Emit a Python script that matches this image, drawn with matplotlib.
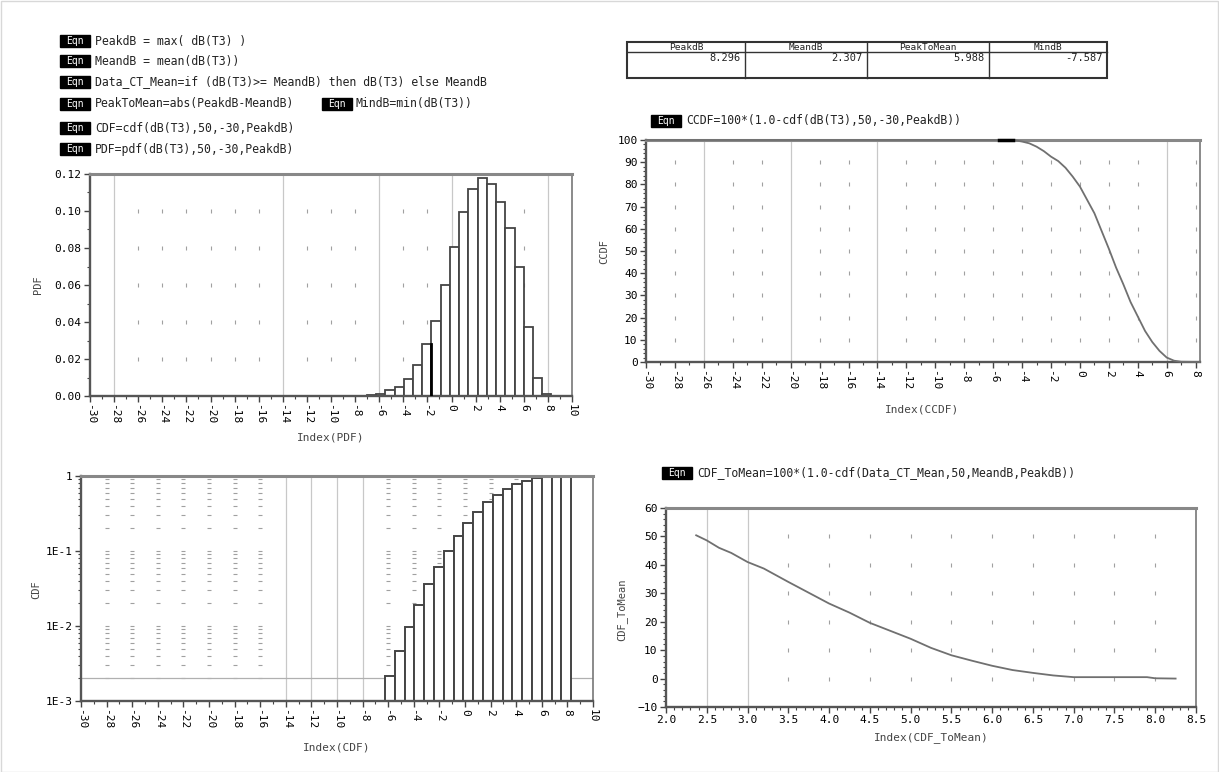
import numpy as np
import matplotlib
matplotlib.use("Agg")
import matplotlib.pyplot as plt
from matplotlib.patches import Rectangle
from matplotlib.lines import Line2D
from matplotlib.ticker import MultipleLocator, LogLocator, NullFormatter

# ---------------- data ----------------
peak_db = 8.296
x_start = -30.0
n_bins = 50

table_headers = ["PeakdB", "MeandB", "PeakToMean", "MindB"]
table_values = ["8.296", "2.307", "5.988", "-7.587"]

equations = [
    "PeakdB = max( dB(T3) )",
    "MeandB = mean(dB(T3))",
    "Data_CT_Mean=if (dB(T3)>= MeandB) then dB(T3) else MeandB",
    "PeakToMean=abs(PeakdB-MeandB)",
    "CDF=cdf(dB(T3),50,-30,PeakdB)",
    "PDF=pdf(dB(T3),50,-30,PeakdB)",
]
equation_side = "MindB=min(dB(T3))"
ccdf_equation = "CCDF=100*(1.0-cdf(dB(T3),50,-30,PeakdB))"
tomean_equation = "CDF_ToMean=100*(1.0-cdf(Data_CT_Mean,50,MeandB,PeakdB))"

# PDF: probability per bin, bins 30..49 of 50 bins from -30 to PeakdB
pdf_first_bin = 30
pdf_values = [0.0008, 0.0012, 0.003, 0.005, 0.0094, 0.017, 0.028, 0.0407,
              0.060, 0.0804, 0.0992, 0.112, 0.118, 0.1146, 0.105, 0.091,
              0.0696, 0.0374, 0.0099, 0.001]
pdf_marked_bin = 36

# CDF: bins 31..49
cdf_first_bin = 31
cdf_values = [0.00215, 0.0047, 0.0096, 0.019, 0.036, 0.0617, 0.101, 0.158,
              0.238, 0.328, 0.454, 0.558, 0.671, 0.782, 0.857, 0.933, 0.99,
              1.0, 1.0]
cdf_ref_level = 0.002

# CCDF curve
ccdf_x = [-30, -5.6, -4.6, -4, -3.5, -3, -2.5, -2, -1.5, -1, -0.5, 0, 0.5, 1,
          1.5, 2, 2.5, 3, 3.5, 4, 4.5, 5, 5.5, 6, 6.5, 7, 8.296]
ccdf_y = [100, 100, 100, 99.3, 98.5, 97, 95, 92.5, 90.5, 87.5, 83.5, 79, 73,
          67, 59, 51, 42.5, 35, 27, 20.5, 14, 9, 5, 2, 0.6, 0.1, 0]

# CDF_ToMean curve
tomean_x = [2.37, 2.5, 2.65, 2.8, 3.0, 3.2, 3.5, 3.75, 4.0, 4.25, 4.5, 4.75,
            5.0, 5.25, 5.5, 5.75, 6.0, 6.25, 6.5, 6.75, 7.0, 7.5, 7.9, 8.0, 8.25]
tomean_y = [50.4, 48.6, 46, 44.2, 41, 38.7, 34, 30.2, 26.4, 23.2, 19.6, 16.8,
            14, 10.8, 8.2, 6.3, 4.5, 3.0, 2.0, 1.1, 0.5, 0.5, 0.5, 0.1, 0.0]

# ---------------- figure ----------------
plt.rcParams["font.family"] = ["DejaVu Sans Mono"]
W, H = 1219, 772
fig = plt.figure(figsize=(W / 100, H / 100), dpi=100)
fig.patch.set_facecolor("white")
EQ_FS = 8.3


def add_ax(l, t, r, b):
    return fig.add_axes([l / W, 1 - b / H, (r - l) / W, (b - t) / H])


def ftext(x, y, s, **kw):
    return fig.text(x / W, 1 - y / H, s, **kw)


def eqn_box(x, y, w=30, h=12):
    fig.patches.append(Rectangle((x / W, 1 - (y + h / 2) / H), w / W, h / H,
                                 transform=fig.transFigure, facecolor="black",
                                 edgecolor="black"))
    ftext(x + w / 2, y, "Eqn", color="white", fontsize=7, ha="center", va="center")


def style(ax):
    for side, sp in ax.spines.items():
        sp.set_color("#555555")
        sp.set_linewidth(1.7)
    ax.spines["top"].set_color("#888888")
    ax.spines["top"].set_linewidth(2.2)
    ax.spines["right"].set_color("#777777")
    ax.spines["right"].set_linewidth(1.2)
    ax.tick_params(which="major", direction="out", length=4, width=1,
                   color="#444444", labelsize=8, pad=2)
    ax.tick_params(which="minor", direction="out", length=2.5, width=0.8,
                   color="#444444")
    ax.set_facecolor("white")


def marks(ax, xs, ys, marker="|", size=3):
    gx, gy = np.meshgrid(xs, ys)
    ax.plot(gx.ravel(), gy.ravel(), linestyle="none", marker=marker,
            markersize=size, color="#a0a0a0", mew=0.8, zorder=0.5)


edges = np.linspace(x_start, peak_db, n_bins + 1)
xticks = np.arange(-30, 11, 2)

# ---------------- equations ----------------
eq_y = [41, 61, 82, 104, 128, 149]
for s, y in zip(equations, eq_y):
    eqn_box(60, y)
    ftext(95, y, s, fontsize=EQ_FS, va="center", color="#222222")
eqn_box(322, eq_y[3])
ftext(356, eq_y[3], equation_side, fontsize=EQ_FS, va="center", color="#222222")

# ---------------- table ----------------
t_left, t_right, t_top, t_mid, t_bot = 627, 1107, 42, 52, 78
cols = [627, 745, 867, 989, 1107]
fig.patches.append(Rectangle((t_left / W, 1 - t_bot / H), (t_right - t_left) / W,
                             (t_bot - t_top) / H, transform=fig.transFigure,
                             fill=False, edgecolor="#333333", linewidth=1.5))
fig.add_artist(Line2D([t_left / W, t_right / W], [1 - t_mid / H, 1 - t_mid / H],
                      color="#333333", linewidth=1.0))
for c in cols[1:-1]:
    fig.add_artist(Line2D([c / W, c / W], [1 - t_top / H, 1 - t_bot / H],
                          color="#333333", linewidth=1.0))
for i, (hd, val) in enumerate(zip(table_headers, table_values)):
    ftext((cols[i] + cols[i + 1]) / 2, (t_top + t_mid) / 2 + 0.5, hd, fontsize=6.8,
          ha="center", va="center", color="#222222")
    ftext(cols[i + 1] - 4, 58, val, fontsize=7.5, ha="right", va="center",
          color="#222222")

# ---------------- PDF ----------------
ax = add_ax(90, 174, 572, 396)
style(ax)
lefts = edges[pdf_first_bin:pdf_first_bin + len(pdf_values)]
widths = np.diff(edges)[pdf_first_bin:pdf_first_bin + len(pdf_values)]
ax.bar(lefts, pdf_values, width=widths, align="edge", facecolor="white",
       edgecolor="#444444", linewidth=1.3, zorder=2)
mk = pdf_marked_bin - pdf_first_bin
ax.plot([edges[pdf_marked_bin + 1]] * 2, [0, pdf_values[mk]], color="black",
        lw=2, zorder=3)
for v in [-28, -14, -6, 0, 8]:
    ax.axvline(v, color="#c8c8c8", lw=0.9, zorder=0.5)
marks(ax, [x for x in xticks[1:-1] if x not in (-28, -14, -6, 0, 8)],
      np.arange(0.02, 0.11, 0.02))
ax.set_xlim(-30, 10)
ax.set_ylim(0, 0.12)
ax.set_xticks(xticks)
ax.set_xticklabels([str(v) for v in xticks], rotation=-90)
ax.set_yticks(np.arange(0, 0.121, 0.02))
ax.set_yticklabels(["%.2f" % v for v in np.arange(0, 0.121, 0.02)])
ax.xaxis.set_minor_locator(MultipleLocator(1))
ax.yaxis.set_minor_locator(MultipleLocator(0.01))
ftext(38, 285, "PDF", fontsize=7.5, rotation=90, ha="center", va="center",
      color="#444444")
ftext(331, 437, "Index(PDF)", fontsize=8, ha="center", va="center", color="#444444")

# ---------------- CCDF ----------------
ax = add_ax(646, 140, 1200, 362)
style(ax)
ccx = np.array(ccdf_x)
ccy = np.array(ccdf_y)
ax.plot(ccx, ccy, color="#707070", lw=1.3, zorder=3, clip_on=False)
seg = (ccx >= -5.6) & (ccx <= -4.6)
ax.plot(ccx[seg], ccy[seg], color="black", lw=2.5, zorder=4, clip_on=False)
for v in [-26, -20, -14, 6]:
    ax.axvline(v, color="#c8c8c8", lw=0.9, zorder=0.5)
cc_ticks = np.arange(-30, 9, 2)
marks(ax, [x for x in cc_ticks[1:] if x not in (-26, -20, -14, 6)],
      np.arange(10, 91, 10))
ax.set_xlim(-30, 8.3)
ax.set_ylim(0, 100)
ax.set_xticks(cc_ticks)
ax.set_xticklabels([str(v) for v in cc_ticks], rotation=-90)
ax.set_yticks(np.arange(0, 101, 10))
ax.xaxis.set_minor_locator(MultipleLocator(1))
ax.yaxis.set_minor_locator(MultipleLocator(2))
eqn_box(651, 121)
ftext(686, 121, ccdf_equation, fontsize=EQ_FS, va="center", color="#222222")
ftext(604, 252, "CCDF", fontsize=7.5, rotation=90, ha="center", va="center",
      color="#444444")
ftext(922, 410, "Index(CCDF)", fontsize=8, ha="center", va="center", color="#444444")

# ---------------- CDF (log) ----------------
ax = add_ax(81, 476, 593, 701)
style(ax)
ax.set_yscale("log")
ylo = 1e-3
lefts = edges[cdf_first_bin:cdf_first_bin + len(cdf_values)]
widths = np.diff(edges)[cdf_first_bin:cdf_first_bin + len(cdf_values)]
ax.bar(lefts, np.array(cdf_values) - ylo, width=widths, bottom=ylo, align="edge",
       facecolor="white", edgecolor="#444444", linewidth=1.4, zorder=2)
ax.axhline(cdf_ref_level, color="#b0b0b0", lw=0.9, zorder=1)
for v in [-14, -12, -10, -8]:
    ax.axvline(v, color="#c8c8c8", lw=0.9, zorder=0.5)
logy = np.concatenate([np.arange(2, 10) * 1e-3, np.arange(1, 10) * 1e-2,
                       np.arange(1, 10) * 1e-1])
marks(ax, [x for x in xticks[1:-1] if x not in (-14, -12, -10, -8)], logy,
      marker="_", size=3)
ax.set_xlim(-30, 10)
ax.set_ylim(1e-3, 1)
ax.set_xticks(xticks)
ax.set_xticklabels([str(v) for v in xticks], rotation=-90)
ax.set_yticks([1e-3, 1e-2, 1e-1, 1])
ax.set_yticklabels(["1E-3", "1E-2", "1E-1", "1"])
ax.yaxis.set_minor_locator(LogLocator(base=10, subs=np.arange(2, 10)))
ax.yaxis.set_minor_formatter(NullFormatter())
ax.xaxis.set_minor_locator(MultipleLocator(1))
ftext(36, 590, "CDF", fontsize=7.5, rotation=90, ha="center", va="center",
      color="#444444")
ftext(337, 747, "Index(CDF)", fontsize=8, ha="center", va="center", color="#444444")

# ---------------- CDF_ToMean ----------------
ax = add_ax(666, 508, 1196, 707)
style(ax)
ax.plot(tomean_x, tomean_y, color="#707070", lw=1.3, zorder=3)
for v in [2.5, 3.0]:
    ax.axvline(v, color="#c8c8c8", lw=0.9, zorder=0.5)
tm_xt = np.arange(2.0, 8.51, 0.5)
marks(ax, [x for x in tm_xt[1:-1] if x > 3.2], np.arange(0, 51, 10))
ax.set_xlim(2.0, 8.5)
ax.set_ylim(-10, 60)
ax.set_xticks(tm_xt)
ax.set_xticklabels(["%.1f" % v for v in tm_xt])
ax.set_yticks(np.arange(-10, 61, 10))
ax.xaxis.set_minor_locator(MultipleLocator(0.1))
ax.yaxis.set_minor_locator(MultipleLocator(2))
eqn_box(662, 473)
ftext(697, 473, tomean_equation, fontsize=EQ_FS, va="center", color="#222222")
ftext(622, 610, "CDF_ToMean", fontsize=7.5, rotation=90, ha="center", va="center",
      color="#444444")
ftext(931, 738, "Index(CDF_ToMean)", fontsize=8, ha="center", va="center",
      color="#444444")

# light outer border
fig.patches.append(Rectangle((0.5 / W, 0.5 / H), 1 - 1.5 / W, 1 - 1.5 / H,
                             transform=fig.transFigure, fill=False,
                             edgecolor="#d8d8d8", linewidth=1))

fig.savefig("out.png", dpi=100, facecolor="white")
